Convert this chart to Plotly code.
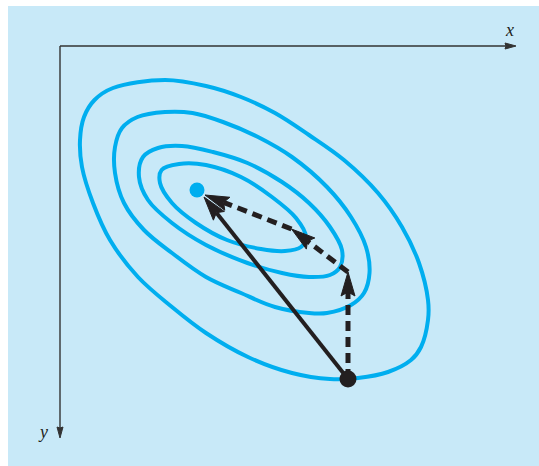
import numpy as np
import plotly.graph_objects as go

# ---- data (diagram units, origin at axis corner, y pointing down) ----
outer_x = [34.5, 53, 105, 146, 181, 215, 249, 284, 318, 342, 359, 368, 368, 361, 351, 328, 298, 270, 232, 188, 146, 112, 78, 50, 33, 22, 20, 24]
outer_y = [54, 42, 34, 40, 51, 67, 89, 114, 147, 181, 217, 254, 274, 301, 314, 326, 332, 333, 327, 311, 287, 261, 231, 194, 157, 121, 94, 71]

second_x = [62, 77.5, 105, 132.5, 163, 198, 232, 267, 291, 306, 309.5, 304, 291, 267, 249, 215, 181, 146, 112, 84, 64, 55, 55]
second_y = [82, 71, 66, 67, 76, 91, 111, 141, 171, 201, 227, 247, 259, 267, 267, 261, 247, 231, 207, 184, 157, 127, 101]

third_x = [83, 98, 122, 153, 187.5, 222, 249, 270, 282, 280, 270, 249, 222, 187.5, 146, 112, 88, 79]
third_y = [111, 102, 100, 106, 117, 136, 157, 181, 204, 221, 229, 231, 227, 217, 199, 177, 154, 131]

inner_x = [101.6, 119, 146, 181, 212, 236, 246, 241, 225, 201, 167, 136, 112, 100]
inner_y = [124, 118, 119, 131, 151, 172, 191, 201, 205, 203, 194, 177, 157, 137]

minimum = (137, 144)
start = (288, 333)
step_x = [288, 288, 231.5, 145]     # dashed path (start -> ... -> near minimum)
step_y = [333, 226, 183, 149]
direct_tip = (144, 151)

x_axis_end = 456
y_axis_end = 392

CONTOUR = "#00aeef"
INK = "#231f20"
BG = "#c8e9f8"

fig = go.Figure()

for cx, cy in [(outer_x, outer_y), (second_x, second_y), (third_x, third_y), (inner_x, inner_y)]:
    fig.add_trace(go.Scatter(x=cx + [cx[0]], y=cy + [cy[0]], mode="lines",
                             line=dict(color=CONTOUR, width=4, shape="spline", smoothing=1),
                             hoverinfo="skip"))


def arrow_head(tip, tail, L, W, notch):
    tip = np.array(tip, float); tail = np.array(tail, float)
    u = (tip - tail) / np.linalg.norm(tip - tail)
    n = np.array([-u[1], u[0]])
    pts = [tip, tip - L * u + W * n, tip - (L - notch) * u, tip - L * u - W * n, tip]
    base = tip - (L - notch) * u
    return [p[0] for p in pts], [p[1] for p in pts], base


def add_arrow(tail, tip, width, dash, L, W, notch, color=INK):
    hx, hy, base = arrow_head(tip, tail, L, W, notch)
    fig.add_trace(go.Scatter(x=[tail[0], base[0]], y=[tail[1], base[1]], mode="lines",
                             line=dict(color=color, width=width, dash=dash), hoverinfo="skip"))
    fig.add_trace(go.Scatter(x=hx, y=hy, mode="lines", fill="toself", fillcolor=color,
                             line=dict(color=color, width=1), hoverinfo="skip"))


# axes
AX = "#333333"
add_arrow((0, 0), (x_axis_end, 0), 1.4, "solid", 11, 3, 1, AX)
add_arrow((0, 0), (0, y_axis_end), 1.4, "solid", 11, 3, 1, AX)

# direct (solid) arrow
add_arrow(start, direct_tip, 4, "solid", 24, 7, 4)
# stepwise (dashed) arrows
for i in range(len(step_x) - 1):
    add_arrow((step_x[i], step_y[i]), (step_x[i + 1], step_y[i + 1]), 5, "10px,6px", 24, 7, 4)

# points
fig.add_trace(go.Scatter(x=[minimum[0]], y=[minimum[1]], mode="markers",
                         marker=dict(color=CONTOUR, size=15, line=dict(width=0)), hoverinfo="skip"))
fig.add_trace(go.Scatter(x=[start[0]], y=[start[1]], mode="markers",
                         marker=dict(color=INK, size=17, line=dict(width=0)), hoverinfo="skip"))

fig.add_annotation(x=449, y=-16, text="<i>x</i>", showarrow=False,
                   font=dict(family="Liberation Serif", size=18, color=INK))
fig.add_annotation(x=-17, y=386, text="<i>y</i>", showarrow=False,
                   font=dict(family="Liberation Serif", size=18, color=INK))

# white page margins on the left and top of the tinted panel
fig.add_shape(type="rect", xref="paper", yref="paper", x0=-0.05, x1=0, y0=-0.05, y1=1.05,
              fillcolor="white", line=dict(width=0), layer="above")
fig.add_shape(type="rect", xref="paper", yref="paper", x0=-0.05, x1=1.05, y0=1, y1=1.05,
              fillcolor="white", line=dict(width=0), layer="above")

fig.update_layout(
    width=539, height=466,
    margin=dict(l=8, r=0, t=6, b=0),
    paper_bgcolor=BG, plot_bgcolor=BG,
    showlegend=False,
    xaxis=dict(range=[-52, 479], visible=False, fixedrange=True),
    yaxis=dict(range=[420, -40], visible=False, fixedrange=True),
)

fig.write_html("out.html", config={"displayModeBar": False},
               post_script="document.body.style.margin='0px';document.body.style.overflow='hidden';document.body.style.background='%s';" % BG)
